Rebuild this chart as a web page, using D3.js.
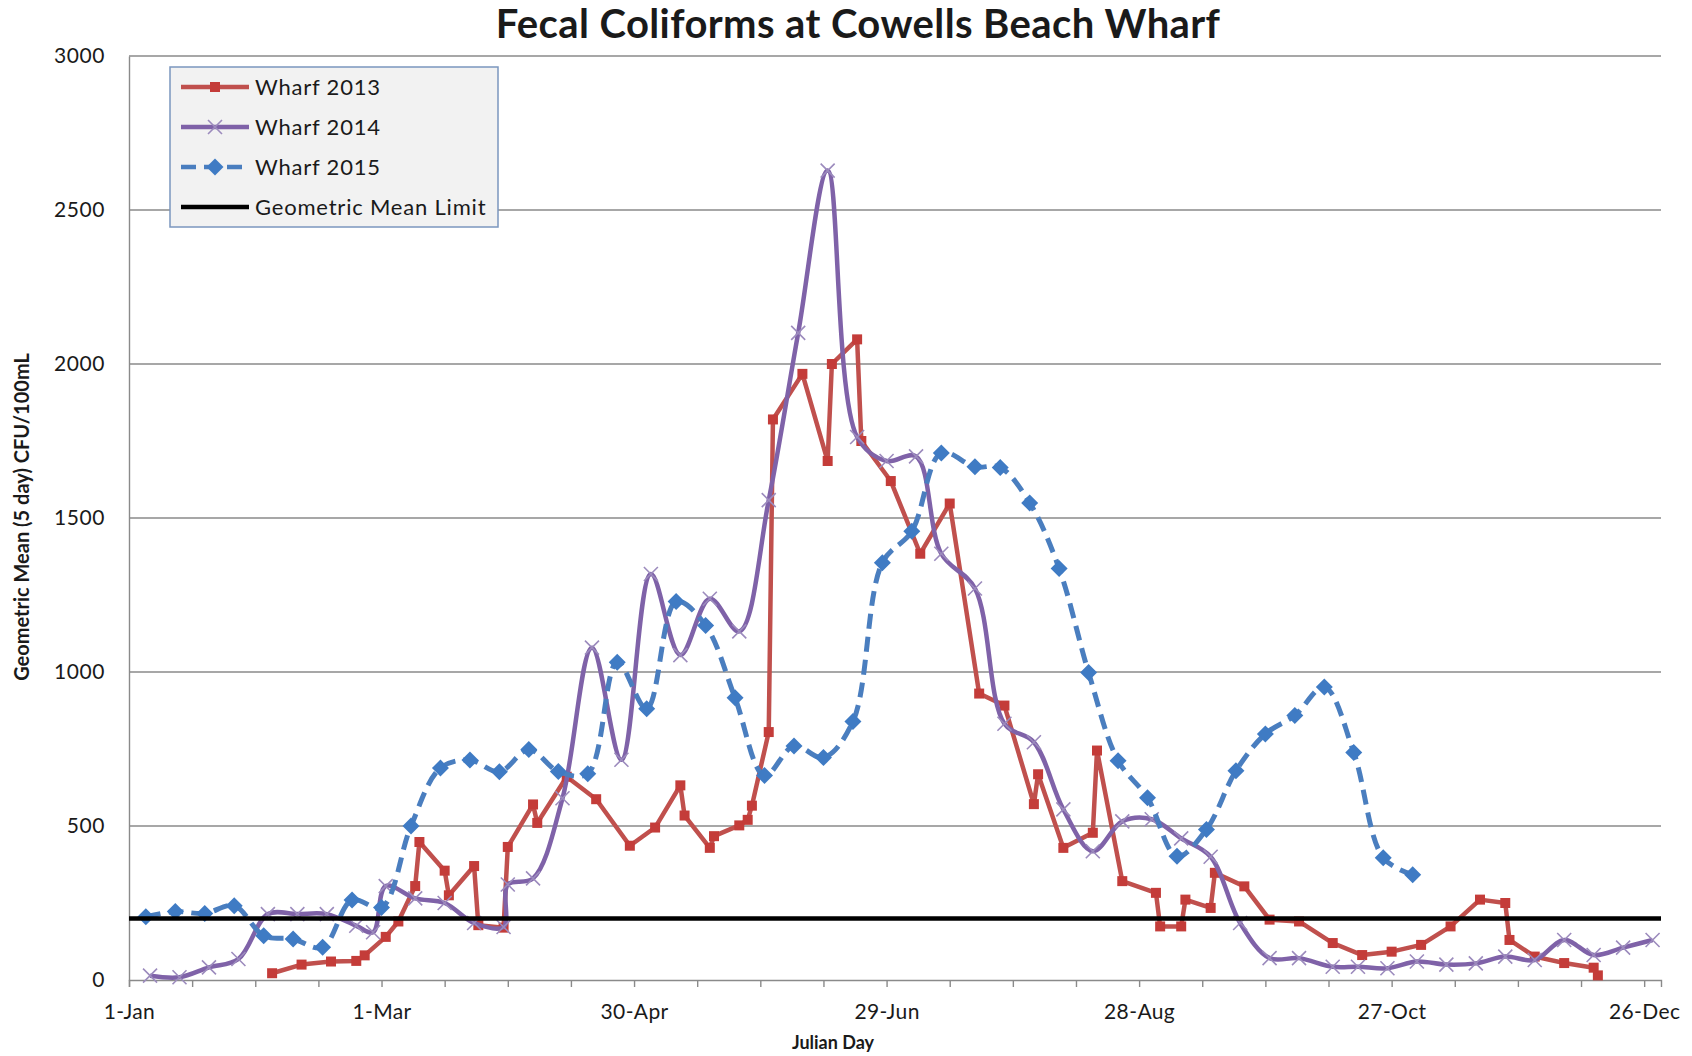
<!DOCTYPE html>
<html>
<head>
<meta charset="utf-8">
<script src="https://cdnjs.cloudflare.com/ajax/libs/d3/7.8.5/d3.min.js"></script>
<style>
body { margin: 0; background: #fff; }
text { font-family: Lato, "Open Sans", sans-serif; fill: #1a1a1a; }
</style>
</head>
<body>
<svg id="chart" width="1692" height="1056"></svg>
<script>
// julian day of each sample and the 5 day geometric mean (CFU/100mL)
var days2013 = [35,42,49,55,57,62,65,69,70,76,77,83,84,90,91,97,98,105,112,120,126,132,133,139,140,146,148,149,153,154,161,167,168,174,175,182,189,196,203,209,216,217,223,230,231,237,245,246,251,252,258,259,266,272,279,287,294,301,308,315,322,328,329,335,342,349,350];
var wharf2013 = [22,50,60,62,80,140,190,305,448,355,275,370,178,170,432,570,510,660,587,436,495,632,534,429,467,502,520,566,805,1820,1968,1685,2000,2080,1750,1620,1384,1547,930,891,571,668,429,478,745,321,283,174,174,261,234,348,304,196,190,120,81,92,114,174,261,250,130,76,55,40,15];

var days2014 = [6,13,20,27,34,41,48,55,59,62,69,76,83,90,91,97,104,111,118,125,132,139,146,153,160,167,174,181,188,194,202,209,216,223,230,237,244,251,258,265,272,279,287,293,300,307,314,321,328,335,342,349,356,363];
var wharf2014 = [14,9,41,68,214,214,214,176,155,305,265,250,185,172,310,330,590,1079,715,1318,1055,1238,1132,1558,2101,2628,1763,1685,1700,1384,1271,832,772,554,418,515,522,460,400,185,71,71,43,43,38,60,50,54,76,65,130,81,105,130];

var days2015 = [5,12,19,26,33,40,47,54,61,68,75,82,89,96,103,110,117,124,131,138,145,152,159,166,173,180,187,194,202,208,215,222,229,236,243,250,257,264,271,278,285,292,299,306];
var wharf2015 = [205,222,216,241,144,133,106,260,235,500,688,714,676,748,677,670,1032,881,1229,1151,916,664,760,722,839,1355,1457,1711,1666,1664,1549,1336,998,712,592,402,489,679,799,859,951,739,397,342];

var meanLimit = 200;
var limitDays = [1, 365];

var xLabelDays = [1, 61, 121, 181, 241, 301, 361];
var xLabels = ["1-Jan", "1-Mar", "30-Apr", "29-Jun", "28-Aug", "27-Oct", "26-Dec"];
var yTicks = [0, 500, 1000, 1500, 2000, 2500, 3000];
var seriesNames = ["Wharf 2013", "Wharf 2014", "Wharf 2015", "Geometric Mean Limit"];

var red = "#c0504d", purple = "#7f62a8", blue = "#4a7ebf";

var svg = d3.select("#chart");
var x = d3.scaleLinear().domain([1, 365]).range([129, 1661]);
var y = d3.scaleLinear().domain([0, 3000]).range([980, 56]);

function toPoints(days, vals) {
    return days.map(function(d, i) { return {day: d, val: vals[i]}; });
}

// gridlines
svg.append("g").selectAll("line")
    .data(yTicks.slice(1))
    .enter().append("line")
    .attr("x1", x(1)).attr("x2", x(365))
    .attr("y1", function(d) { return y(d); })
    .attr("y2", function(d) { return y(d); })
    .attr("stroke", "#8a8a8a").attr("stroke-width", 1.4);

// x axis: small ticks every 15 days, labels every 60
var minorDays = d3.range(1, 366, 15);
var xAxis = svg.append("g").attr("transform", "translate(0," + y(0) + ")")
    .call(d3.axisBottom(x).tickValues(minorDays).tickSize(7).tickFormat(""));
xAxis.selectAll("line").attr("stroke", "#8a8a8a").attr("stroke-width", 1.4);
xAxis.select(".domain").attr("stroke", "#8a8a8a").attr("stroke-width", 1.4);

var xLab = svg.append("g").attr("transform", "translate(0," + y(0) + ")")
    .call(d3.axisBottom(x).tickValues(xLabelDays).tickSize(0).tickPadding(24)
        .tickFormat(function(d, i) { return xLabels[i]; }));
xLab.select(".domain").remove();
xLab.selectAll("text").style("font-size", "21px").style("font-family", "Lato")
    .style("letter-spacing", "0.4px").attr("fill", "#1a1a1a");

var yAxis = svg.append("g").attr("transform", "translate(" + x(1) + ",0)")
    .call(d3.axisLeft(y).tickValues(yTicks).tickSize(0).tickPadding(24).tickFormat(d3.format("d")));
yAxis.select(".domain").attr("stroke", "#8a8a8a").attr("stroke-width", 1.4);
yAxis.selectAll("text").style("font-size", "21px").style("font-family", "Lato")
    .style("letter-spacing", "0.6px").attr("fill", "#1a1a1a");

// lines
var straight = d3.line().x(function(d) { return x(d.day); }).y(function(d) { return y(d.val); });
var smooth = d3.line().curve(d3.curveCatmullRom.alpha(0.5))
    .x(function(d) { return x(d.day); }).y(function(d) { return y(d.val); });

var pts2013 = toPoints(days2013, wharf2013);
var pts2014 = toPoints(days2014, wharf2014);
var pts2015 = toPoints(days2015, wharf2015);

var squarePath = "M-5,-5H5V5H-5Z";
var crossPath = "M-7,-7L7,7M-7,7L7,-7";
var diamondPath = "M0,-8.5L8.5,0L0,8.5L-8.5,0Z";

svg.append("path").datum(pts2013).attr("d", straight)
    .attr("fill", "none").attr("stroke", red).attr("stroke-width", 4.5).attr("stroke-linejoin", "round");
svg.append("g").selectAll("path").data(pts2013).enter().append("path")
    .attr("d", squarePath)
    .attr("transform", function(d) { return "translate(" + x(d.day) + "," + y(d.val) + ")"; })
    .attr("fill", "#c43c39");

svg.append("path").datum(pts2014).attr("d", smooth)
    .attr("fill", "none").attr("stroke", purple).attr("stroke-width", 4.5);
svg.append("g").selectAll("path").data(pts2014).enter().append("path")
    .attr("d", crossPath)
    .attr("transform", function(d) { return "translate(" + x(d.day) + "," + y(d.val) + ")"; })
    .attr("fill", "none").attr("stroke", "#9c8bbd").attr("stroke-width", 1.6);

svg.append("path").datum(pts2015).attr("d", smooth)
    .attr("fill", "none").attr("stroke", blue).attr("stroke-width", 5)
    .attr("stroke-dasharray", "15,8");
svg.append("g").selectAll("path").data(pts2015).enter().append("path")
    .attr("d", diamondPath)
    .attr("transform", function(d) { return "translate(" + x(d.day) + "," + y(d.val) + ")"; })
    .attr("fill", "#3f7bc4");

svg.append("line")
    .attr("x1", x(limitDays[0])).attr("x2", x(limitDays[1]))
    .attr("y1", y(meanLimit)).attr("y2", y(meanLimit))
    .attr("stroke", "#000").attr("stroke-width", 4.5);

// legend
var lg = svg.append("g").attr("transform", "translate(170,67)");
lg.append("rect").attr("width", 328).attr("height", 160)
    .attr("fill", "#f2f2f2").attr("stroke", "#7b96be").attr("stroke-width", 1.5);
var rows = lg.selectAll("g").data(seriesNames).enter().append("g")
    .attr("transform", function(d, i) { return "translate(0," + (20 + i * 40) + ")"; });
rows.append("line").attr("x1", 11).attr("x2", 79)
    .attr("stroke", function(d, i) { return [red, purple, blue, "#000"][i]; })
    .attr("stroke-width", 4.5)
    .attr("stroke-dasharray", function(d, i) { return i === 2 ? "15,8" : null; });
rows.append("path")
    .attr("d", function(d, i) { return [squarePath, crossPath, diamondPath, ""][i]; })
    .attr("transform", "translate(45,0)")
    .attr("fill", function(d, i) { return i === 0 ? "#c43c39" : i === 2 ? "#3f7bc4" : "none"; })
    .attr("stroke", function(d, i) { return i === 1 ? "#9c8bbd" : "none"; })
    .attr("stroke-width", 1.6);
rows.append("text").attr("x", 85).attr("dy", "0.35em")
    .style("font-size", "22px").style("letter-spacing", "0.8px").text(function(d) { return d; });

// titles
svg.append("text").attr("x", 858).attr("y", 24).attr("dy", "0.35em")
    .attr("text-anchor", "middle").style("font-size", "40px").style("font-weight", "bold")
    .style("letter-spacing", "0.4px")
    .text("Fecal Coliforms at Cowells Beach Wharf");
svg.append("text").attr("x", 833).attr("y", 1043).attr("dy", "0.35em")
    .attr("text-anchor", "middle").style("font-size", "18px").style("font-weight", "bold")
    .text("Julian  Day");
svg.append("text").attr("transform", "translate(22,517) rotate(-90)").attr("dy", "0.35em")
    .attr("text-anchor", "middle").style("font-size", "20px").style("font-weight", "bold")
    .text("Geometric Mean (5 day) CFU/100mL");
</script>
</body>
</html>
